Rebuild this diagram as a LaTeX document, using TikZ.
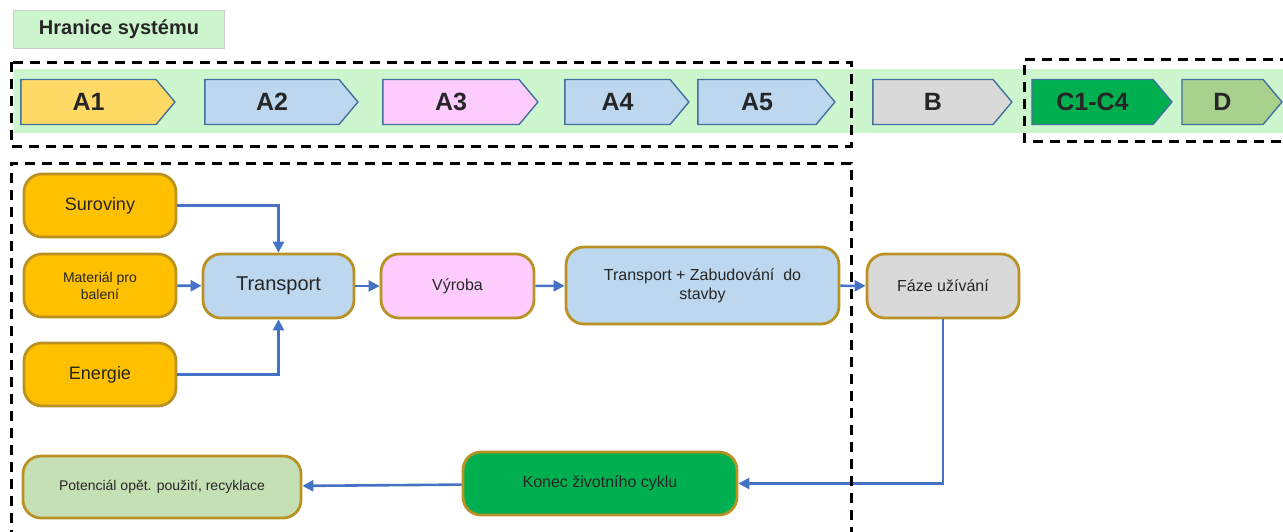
\documentclass[tikz,border=0pt]{standalone}
\usepackage{fontspec}
\setmainfont{Liberation Sans}
\usepackage{tikz}
\usetikzlibrary{shapes.symbols,arrows.meta}

\definecolor{band}{RGB}{206,246,206}
\definecolor{chev}{RGB}{65,113,156}
\definecolor{gold}{RGB}{186,146,36}
\definecolor{flowblue}{RGB}{68,114,196}
\definecolor{yel}{RGB}{255,217,102}
\definecolor{orng}{RGB}{255,192,0}
\definecolor{lblue}{RGB}{189,215,238}
\definecolor{pink}{RGB}{255,204,255}
\definecolor{lgray}{RGB}{217,217,217}
\definecolor{dgreen}{RGB}{0,176,80}
\definecolor{mgreen}{RGB}{169,209,142}
\definecolor{pgreen}{RGB}{197,224,180}

\begin{document}
\begin{tikzpicture}[
		x=1pt, y=-1pt,
		every node/.style={text=black!85},
		stage/.style={signal, signal to=east, signal pointer angle=100, draw=chev,
			line width=1.4pt, minimum height=45pt, inner sep=0pt,
			font=\bfseries\fontsize{25pt}{27pt}\selectfont},
		box/.style={rectangle, rounded corners=18pt, draw=gold, line width=2.8pt,
			align=center, inner sep=2pt},
		flow/.style={-{Triangle[length=11pt,width=11pt]}, line width=2.6pt, flowblue},
		border/.style={dashed, dash pattern=on 10pt off 7pt, line width=3pt, black}
	]
  \useasboundingbox (0,0) rectangle (1283,531);
  % band with the stages
  \fill[band] (14,69) rectangle (1283,133);
  \node (hr) [fill=band, draw=black!20, line width=0.8pt, minimum width=211pt, minimum height=38pt,
    font=\bfseries\fontsize{20pt}{22pt}\selectfont] at (119,29.5) {Hranice systému};
  \node (a1) [stage, fill=yel, minimum width=154pt] at (88.5,102) {A1};
  \node (a2) [stage, fill=lblue, minimum width=153pt] at (272,102) {A2};
  \node (a3) [stage, fill=pink, minimum width=155pt] at (451,102) {A3};
  \node (a4) [stage, fill=lblue, minimum width=124pt] at (617.5,102) {A4};
  \node (a5) [stage, fill=lblue, minimum width=137pt] at (757,102) {A5};
  \node (b) [stage, fill=lgray, minimum width=139pt] at (933,102) {B};
  \node (c) [stage, fill=dgreen, minimum width=140pt] at (1092.5,102) {C1-C4};
  \node (d) [stage, fill=mgreen, minimum width=100pt] at (1222.5,102) {D};

  % process boxes
  \node (sur) [box, fill=orng, minimum width=152pt, minimum height=63pt,
    font=\fontsize{18pt}{20pt}\selectfont] at (100,205.5) {Suroviny};
  \node (mat) [box, fill=orng, minimum width=152pt, minimum height=63pt,
    font=\fontsize{14pt}{17pt}\selectfont] at (100,285.5) {Materiál pro\\balení};
  \node (ene) [box, fill=orng, minimum width=152pt, minimum height=63pt,
    font=\fontsize{18pt}{20pt}\selectfont] at (100,374.5) {Energie};
  \node (tr) [box, fill=lblue, minimum width=151pt, minimum height=64pt,
    font=\fontsize{20pt}{22pt}\selectfont] at (278.5,286) {Transport};
  \node (vyr) [box, fill=pink, minimum width=153pt, minimum height=64pt,
    font=\fontsize{16pt}{18pt}\selectfont] at (457.5,286) {Výroba};
  \node (tz) [box, fill=lblue, minimum width=273pt, minimum height=77pt,
    font=\fontsize{16pt}{19pt}\selectfont] at (702.5,285.5) {Transport + Zabudování~ do\\stavby};
  \node (faze) [box, fill=lgray, minimum width=152pt, minimum height=64pt,
    font=\fontsize{16pt}{18pt}\selectfont] at (943,286) {Fáze užívání};
  \node (kon) [box, fill=dgreen, minimum width=274pt, minimum height=63pt,
    font=\fontsize{16pt}{18pt}\selectfont] at (600,483.5) {Konec životního cyklu};
  \node (pot) [box, fill=pgreen, minimum width=278pt, minimum height=62pt,
    font=\fontsize{14pt}{17pt}\selectfont] at (162,487) {Potenciál opět. použití, recyklace};

  \draw[flow] (sur.east) -| (tr.north);
  \draw[flow] (mat) -- (tr);
  \draw[flow] (ene.east) -| (tr.south);
  \draw[flow] (tr) -- (vyr);
  \draw[flow] (vyr) -- (tz);
  \draw[flow] (tz) -- (faze);
  \draw[flow] (faze.south) |- (kon.east);
  \draw[flow] (kon) -- (pot);

  % system boundaries
  \draw[border] (11,62) rectangle (851,146);
  \draw[border] (11,540) |- (851,163) -- (851,540);
  \draw[border] (1290,59) -| (1024,141) -- (1290,141);
\end{tikzpicture}
\end{document}
